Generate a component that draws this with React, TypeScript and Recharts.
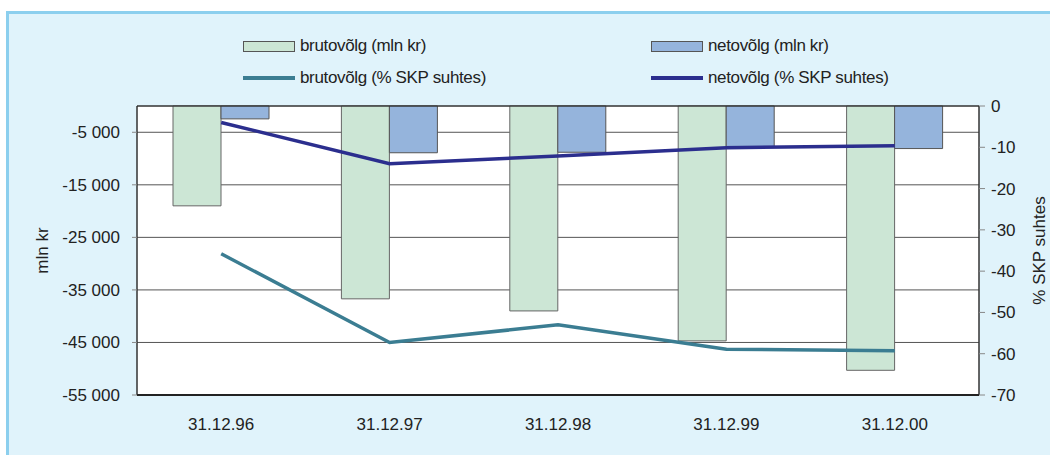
import { ComposedChart, Bar, Line, XAxis, YAxis, CartesianGrid } from "recharts";

const categories = ["31.12.96", "31.12.97", "31.12.98", "31.12.99", "31.12.00"];
const grossDebt = [-19000, -36700, -39000, -44700, -50300];
const netDebt = [-2450, -8900, -8800, -7700, -8100];
const grossPct = [-35.8, -57.3, -53.0, -58.9, -59.3];
const netPct = [-4.0, -14.0, -12.1, -10.1, -9.6];

const leftTicks = [-5000, -15000, -25000, -35000, -45000, -55000];
const rightTicks = [0, -10, -20, -30, -40, -50, -60, -70];
const boundaryTicks = [0, 1, 2, 3, 4, 5];

const names = {
  gross: "brutovõlg (mln kr)",
  net: "netovõlg (mln kr)",
  grossPct: "brutovõlg (% SKP suhtes)",
  netPct: "netovõlg (% SKP suhtes)",
};

const COLORS = {
  gross: "#cce6d5",
  net: "#95b4dc",
  grossPct: "#3b7d92",
  netPct: "#2b2e8e",
};

const data = categories.map((cat, i) => ({
  cat,
  gross: grossDebt[i],
  net: netDebt[i],
  grossPct: grossPct[i],
  netPct: netPct[i],
}));

const FONT = "'Liberation Sans', Arial, sans-serif";
const tickStyle = { fill: "#222", fontSize: 17, fontFamily: FONT };

const fmtThousands = (v: number) => {
  const s = Math.abs(v).toString().replace(/\B(?=(\d{3})+(?!\d))/g, " ");
  return v < 0 ? "-" + s : s;
};

function AxisTitle({ viewBox, text, dx }: any) {
  const { x, y, height } = viewBox;
  const cx = x + dx;
  const cy = y + height / 2;
  return (
    <text
      x={cx}
      y={cy}
      transform={`rotate(-90 ${cx} ${cy})`}
      textAnchor="middle"
      dominantBaseline="central"
      fill="#222"
      fontSize={17}
      fontFamily={FONT}
    >
      {text}
    </text>
  );
}

function LegendItem({ x, y, kind, color, label }: any) {
  return (
    <div style={{ position: "absolute", left: x, top: y, display: "flex", alignItems: "center", whiteSpace: "nowrap" }}>
      {kind === "bar" ? (
        <div style={{ width: 50, height: 9, background: color, border: "1px solid #555" }} />
      ) : (
        <div style={{ width: 52, height: 4, background: color, margin: "3px 0" }} />
      )}
      <span style={{ marginLeft: 5, fontSize: 17, fontFamily: FONT, color: "#222", letterSpacing: -0.35 }}>{label}</span>
    </div>
  );
}

export default function App() {
  return (
    <div style={{ position: "absolute", left: 0, top: 0, width: 1050, height: 455, background: "#fff", overflow: "hidden" }}>
      <div
        style={{
          position: "absolute",
          left: 6,
          top: 11,
          right: 0,
          bottom: 0,
          background: "#e0f3fb",
          borderTop: "3px solid #8ccfee",
          borderLeft: "3px solid #8ccfee",
        }}
      />
      <LegendItem x={243} y={36} kind="bar" color={COLORS.gross} label={names.gross} />
      <LegendItem x={651} y={36} kind="bar" color={COLORS.net} label={names.net} />
      <LegendItem x={243} y={68} kind="line" color={COLORS.grossPct} label={names.grossPct} />
      <LegendItem x={651} y={68} kind="line" color={COLORS.netPct} label={names.netPct} />
      <div style={{ position: "absolute", left: 0, top: 0 }}>
        <ComposedChart
          width={1050}
          height={455}
          data={data}
          margin={{ top: 96, right: 0, bottom: 0, left: 20 }}
          barSize={48}
          barGap={0}
        >
          <CartesianGrid xAxisId="top" yAxisId="left" stroke="#555" fill="#fff" />
          <XAxis
            xAxisId="top"
            orientation="top"
            type="number"
            domain={[0, 5]}
            ticks={boundaryTicks}
            height={10}
            tick={false}
            tickSize={6}
            axisLine={{ stroke: "#222" }}
            tickLine={{ stroke: "#777" }}
          />
          <XAxis
            xAxisId="cat"
            dataKey="cat"
            height={60}
            tickLine={false}
            tickSize={0}
            tickMargin={23}
            tick={tickStyle}
            axisLine={{ stroke: "#222", strokeWidth: 2 }}
          />
          <YAxis
            yAxisId="left"
            width={117}
            domain={[-55000, 0]}
            ticks={leftTicks}
            tickFormatter={fmtThousands}
            tickSize={5}
            tickMargin={12}
            tick={tickStyle}
            axisLine={{ stroke: "#222" }}
            tickLine={{ stroke: "#888" }}
            label={{ content: (p: any) => <AxisTitle {...p} text="mln kr" dx={22} /> }}
          />
          <YAxis
            yAxisId="right"
            orientation="right"
            width={71}
            domain={[-70, 0]}
            ticks={rightTicks}
            tickSize={6}
            tickMargin={6}
            tick={tickStyle}
            axisLine={{ stroke: "#222" }}
            tickLine={{ stroke: "#888" }}
            label={{ content: (p: any) => <AxisTitle {...p} text="% SKP suhtes" dx={60} /> }}
          />
          <Bar xAxisId="cat" yAxisId="left" dataKey="gross" name={names.gross} fill={COLORS.gross} stroke="#666" isAnimationActive={false} />
          <Bar xAxisId="cat" yAxisId="left" dataKey="net" name={names.net} fill={COLORS.net} stroke="#555" isAnimationActive={false} />
          <Line xAxisId="cat" yAxisId="right" dataKey="grossPct" name={names.grossPct} stroke={COLORS.grossPct} strokeWidth={3.5} dot={false} isAnimationActive={false} />
          <Line xAxisId="cat" yAxisId="right" dataKey="netPct" name={names.netPct} stroke={COLORS.netPct} strokeWidth={3.5} dot={false} isAnimationActive={false} />
        </ComposedChart>
      </div>
    </div>
  );
}
